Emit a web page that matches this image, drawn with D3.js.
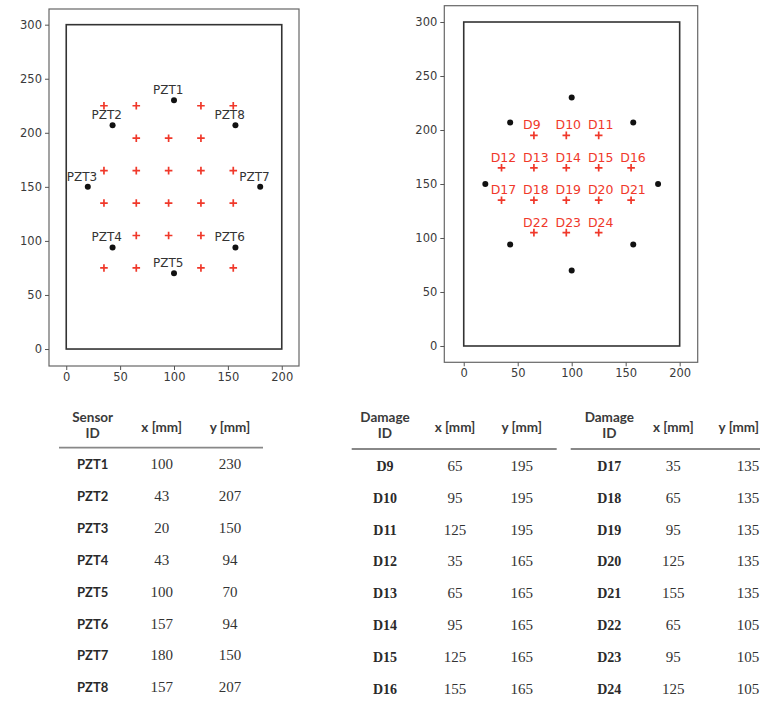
<!DOCTYPE html>
<html>
<head>
<meta charset="utf-8">
<script src="https://cdn.jsdelivr.net/npm/d3@7"></script>
<style>
  body { margin: 0; background: #fff; }
  svg { display: block; }
  .tick text { font-family: "DejaVu Sans", sans-serif; font-size: 11.5px; fill: #3a3a3a; }
  .tick line { stroke: #555; }
</style>
</head>
<body>
<svg width="760" height="705"></svg>
<script>
// sensors
var sensorIds = ["PZT1", "PZT2", "PZT3", "PZT4", "PZT5", "PZT6", "PZT7", "PZT8"];
var sensorX = [100, 43, 20, 43, 100, 157, 180, 157];
var sensorY = [230, 207, 150, 94, 70, 94, 150, 207];

// damage locations listed in the tables
var damageIds = ["D9", "D10", "D11", "D12", "D13", "D14", "D15", "D16",
                 "D17", "D18", "D19", "D20", "D21", "D22", "D23", "D24"];
var damageX = [65, 95, 125, 35, 65, 95, 125, 155, 35, 65, 95, 125, 155, 65, 95, 125];
var damageY = [195, 195, 195, 165, 165, 165, 165, 165, 135, 135, 135, 135, 135, 105, 105, 105];

// the outer damage points only shown in the left plot (D1-D8)
var outerX = [35, 65, 125, 155, 35, 65, 125, 155];
var outerY = [225, 225, 225, 225, 75, 75, 75, 75];

// plate outline
var plateW = 200, plateH = 300;
var xTicks = [0, 50, 100, 150, 200];
var yTicks = [0, 50, 100, 150, 200, 250, 300];

var svg = d3.select("svg");
var red = "#f0382a";

function panel(cfg) {
    var x = d3.scaleLinear().domain(cfg.xd).range([cfg.l, cfg.r]);
    var y = d3.scaleLinear().domain(cfg.yd).range([cfg.b, cfg.t]);
    var g = svg.append("g");

    g.append("rect")
        .attr("x", cfg.l).attr("y", cfg.t)
        .attr("width", cfg.r - cfg.l).attr("height", cfg.b - cfg.t)
        .attr("fill", "none").attr("stroke", "#666").attr("stroke-width", 1.2);

    g.append("g")
        .attr("transform", "translate(0," + cfg.b + ")")
        .call(d3.axisBottom(x).tickValues(xTicks).tickSize(4).tickPadding(3))
        .call(a => a.select(".domain").remove());
    g.append("g")
        .attr("transform", "translate(" + cfg.l + ",0)")
        .call(d3.axisLeft(y).tickValues(yTicks).tickSize(4).tickPadding(3))
        .call(a => a.select(".domain").remove());

    g.append("rect")
        .attr("x", x(0)).attr("y", y(plateH))
        .attr("width", x(plateW) - x(0)).attr("height", y(0) - y(plateH))
        .attr("fill", "none").attr("stroke", "#333").attr("stroke-width", 1.6);

    var pts = damageX.map((d, i) => ({ id: damageIds[i], x: d, y: damageY[i] }));
    if (cfg.outer) pts = pts.concat(outerX.map((d, i) => ({ x: d, y: outerY[i] })));

    g.selectAll(".dmg").data(pts).enter().append("path")
        .attr("class", "dmg")
        .attr("d", d => "M" + (x(d.x) - 3.8) + "," + y(d.y) + "h7.6M" + x(d.x) + "," + (y(d.y) - 3.8) + "v7.6")
        .attr("stroke", red).attr("stroke-width", 1.7);

    var sens = sensorIds.map((s, i) => ({ id: s, x: sensorX[i], y: sensorY[i] }));
    g.selectAll(".sens").data(sens).enter().append("circle")
        .attr("cx", d => x(d.x)).attr("cy", d => y(d.y))
        .attr("r", 3).attr("fill", "#111");

    if (cfg.sensorLabels) {
        g.selectAll(".slab").data(sens).enter().append("text")
            .attr("x", d => x(d.x - 19.5)).attr("y", d => y(d.y + 5.5))
            .attr("font-family", "DejaVu Sans, sans-serif").attr("font-size", 12)
            .attr("fill", "#333").text(d => d.id);
    }
    if (cfg.damageLabels) {
        g.selectAll(".dlab").data(pts.filter(d => d.id)).enter().append("text")
            .attr("x", d => x(d.x - 10)).attr("y", d => y(d.y + 5.5))
            .attr("font-family", "DejaVu Sans, sans-serif").attr("font-size", 12.5)
            .attr("fill", red).text(d => d.id);
    }
}

panel({ l: 49, r: 299, t: 9, b: 366, xd: [-16, 216], yd: [-15.7, 314.5],
        outer: true, sensorLabels: true, damageLabels: false });
panel({ l: 444.3, r: 697.7, t: 5.7, b: 362.3, xd: [-18, 216.7], yd: [-15.1, 315.1],
        outer: false, sensorLabels: false, damageLabels: true });

// tables
function table(cfg) {
    var g = svg.append("g");
    var row = d3.scaleLinear().domain([0, 7]).range([cfg.row0, cfg.row0 + 7 * 31.9]);
    var hdr = { "font-family": "Lato, sans-serif", "font-weight": "bold", "font-size": 13.5, "fill": "#3a3a3a" };
    function put(t, a) { for (var k in a) t.attr(k, a[k]); return t; }

    put(g.append("text").attr("x", cfg.cols[0]).attr("y", 422).attr("text-anchor", "middle").text(cfg.title), hdr);
    put(g.append("text").attr("x", cfg.cols[0]).attr("y", 438).attr("text-anchor", "middle").text("ID"), hdr);
    put(g.append("text").attr("x", cfg.cols[1]).attr("y", 432).attr("text-anchor", "middle").text("x [mm]"), hdr);
    // last header sits at the right edge, keep it inside the page
    put(g.append("text").attr("x", cfg.yHead || cfg.cols[2]).attr("y", 432)
        .attr("text-anchor", cfg.yHead ? "end" : "middle").text("y [mm]"), hdr);

    g.append("line")
        .attr("x1", cfg.x1).attr("x2", cfg.x2).attr("y1", cfg.line).attr("y2", cfg.line)
        .attr("stroke", "#888").attr("stroke-width", 1.8);

    var rows = g.selectAll(".r").data(cfg.ids).enter().append("g")
        .attr("transform", (d, i) => "translate(0," + (row(i) + 5) + ")");
    rows.append("text").attr("x", cfg.cols[0]).attr("text-anchor", "middle")
        .attr("font-family", cfg.idFont).attr("font-weight", "bold")
        .attr("font-size", cfg.idSize).attr("fill", "#2a2a2a").text(d => d);
    rows.append("text").attr("x", cfg.cols[1]).attr("text-anchor", "middle")
        .attr("font-family", "Liberation Serif, serif").attr("font-size", 15)
        .attr("fill", "#333").text((d, i) => cfg.xs[i]);
    rows.append("text").attr("x", cfg.cols[2]).attr("text-anchor", "middle")
        .attr("font-family", "Liberation Serif, serif").attr("font-size", 15)
        .attr("fill", "#333").text((d, i) => cfg.ys[i]);
}

table({ title: "Sensor", ids: sensorIds, xs: sensorX, ys: sensorY,
        cols: [92.7, 161.7, 230], x1: 59, x2: 263, line: 447.7, row0: 464,
        idFont: "Lato, sans-serif", idSize: 13 });
table({ title: "Damage", ids: damageIds.slice(0, 8), xs: damageX.slice(0, 8), ys: damageY.slice(0, 8),
        cols: [385, 455, 521.7], x1: 351.7, x2: 556.7, line: 449, row0: 465.7,
        idFont: "Liberation Serif, serif", idSize: 14 });
table({ title: "Damage", ids: damageIds.slice(8), xs: damageX.slice(8), ys: damageY.slice(8),
        cols: [609.3, 673.3, 748], yHead: 759, x1: 570.7, x2: 775, line: 449, row0: 465.7,
        idFont: "Liberation Serif, serif", idSize: 14 });
</script>
</body>
</html>
